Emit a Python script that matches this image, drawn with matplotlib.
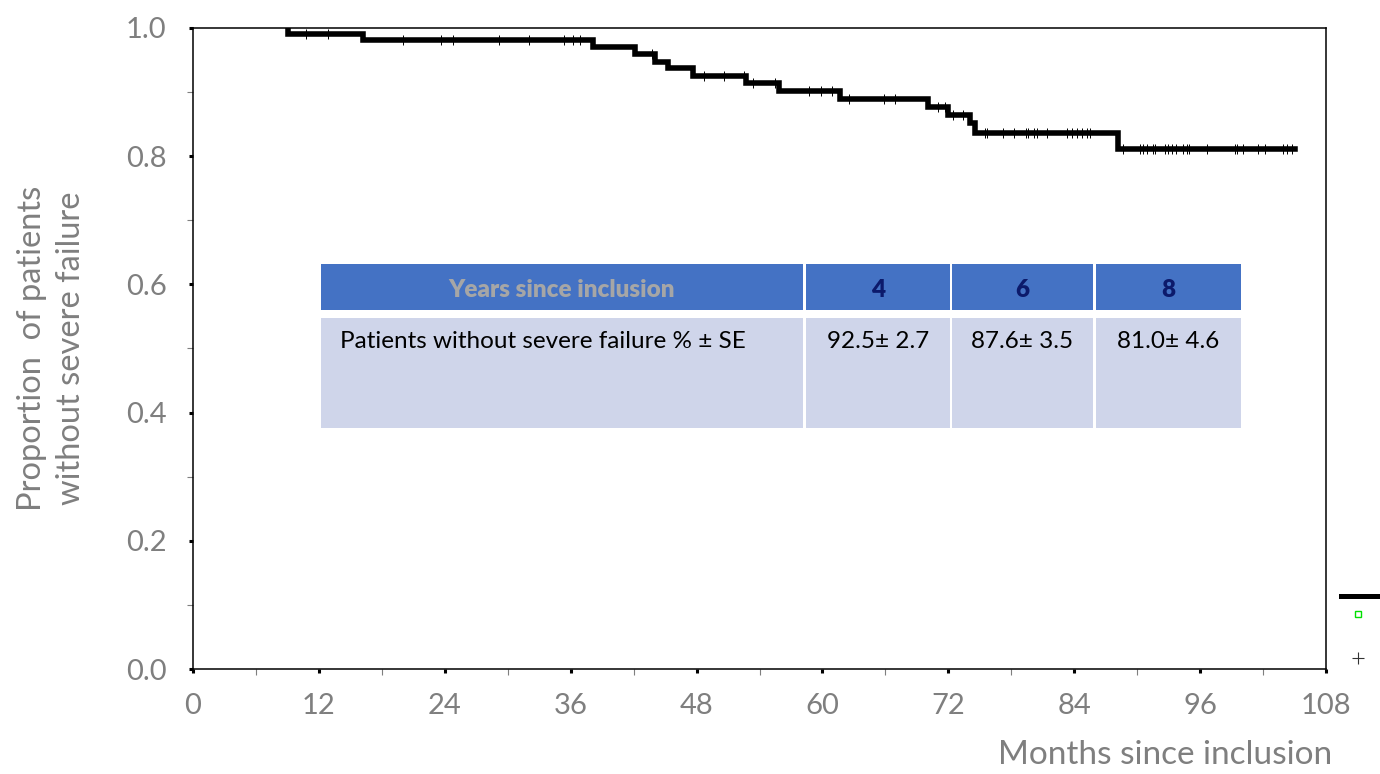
import numpy as np
import matplotlib
matplotlib.use("Agg")
import matplotlib.pyplot as plt
from matplotlib.lines import Line2D
from matplotlib.patches import Rectangle
from matplotlib.transforms import Affine2D
from matplotlib.ticker import MultipleLocator

plt.rcParams['font.family'] = ['Lato', 'DejaVu Sans']

# Kaplan-Meier steps (months, survival after each event)
event_months = [9.06, 16.21, 38.13, 42.14, 44.04, 45.28, 47.66, 52.72, 55.86,
                61.68, 70.07, 71.97, 74.07, 74.55, 88.18]
surv_levels = [0.990, 0.981, 0.970, 0.959, 0.947, 0.938, 0.925, 0.914, 0.902,
               0.889, 0.877, 0.864, 0.852, 0.836, 0.811]
last_month = 105.0

# censored observations (months)
censor_months = [10.77, 12.84,
                 19.99, 23.61, 24.76, 29.17, 32.06, 35.40, 36.25, 36.89,
                 43.73,
                 48.71, 50.65, 52.56,
                 53.41, 55.48,
                 58.75, 59.84, 60.94,
                 62.56, 65.87, 66.92,
                 71.05, 71.69,
                 72.48, 73.38,
                 75.50, 75.72, 77.24, 78.27, 79.41, 79.63, 80.20, 80.43, 81.38,
                 83.29, 83.77, 84.24, 84.72, 85.20, 85.51,
                 88.63, 90.28, 90.59, 90.92, 91.50, 91.71, 92.66, 92.98, 93.30,
                 93.71, 94.41, 94.79, 94.98, 96.63, 99.33, 99.55, 100.12,
                 101.55, 102.19, 103.94, 104.32, 104.74]

# summary table
table_header = ["Years since inclusion", "4", "6", "8"]
table_row = ["Patients without severe failure % \u00b1 SE",
             "92.5\u00b1 2.7", "87.6\u00b1 3.5", "81.0\u00b1 4.6"]

W, H = 1380, 774
fig = plt.figure(figsize=(W / 100, H / 100), dpi=100)
ax = fig.add_axes([193 / W, 1 - 669 / H, 1133 / W, 641 / H])

xs = np.r_[event_months[0], event_months, last_month]
ys = np.r_[1.0, surv_levels, surv_levels[-1]]
ax.step(xs, ys, where='post', color='black', lw=4.0, solid_joinstyle='miter')

# survival value at each censor time
idx = np.searchsorted(event_months, censor_months, side='right') - 1
cens_y = np.where(idx >= 0, np.array(surv_levels)[np.clip(idx, 0, None)], 1.0)
ax.plot(censor_months, cens_y, ls='none', marker='|', ms=7, mew=0.7,
        color='black')

ax.set_xlim(0, 108)
ax.set_ylim(0, 1.0)
ax.xaxis.set_major_locator(MultipleLocator(12))
ax.xaxis.set_minor_locator(MultipleLocator(6))
ax.yaxis.set_major_locator(MultipleLocator(0.2))
ax.yaxis.set_minor_locator(MultipleLocator(0.1))
ax.yaxis.set_major_formatter(lambda v, p: f"{v:.1f}")

grey = '#7f7f7f'
ax.tick_params(which='major', direction='out', length=3, width=2.2,
               colors='black', labelcolor=grey, labelsize=21)
ax.tick_params(axis='y', which='major', pad=16)
ax.tick_params(axis='x', which='major', pad=14)
ax.tick_params(which='minor', direction='out', length=4.5, width=0.8,
               colors=grey)
for s in ax.spines.values():
    s.set_linewidth(1.1)

ax.set_ylabel("Proportion  of patients\nwithout severe failure", fontsize=23.5,
              color=grey, linespacing=1.4)
ax.yaxis.set_label_coords(-0.125, 0.5)
ax.yaxis.label.set_va('center')
ax.set_xlabel("Months since inclusion", fontsize=24, color=grey, loc='right')
ax.xaxis.set_label_coords(1.005, -0.134)
ax.xaxis.label.set_va('center')

# table overlay, placed in figure pixels
pix = Affine2D().scale(1 / W, -1 / H).translate(0, 1) + fig.transFigure
col_edges = [(321, 803), (806, 950), (952, 1093), (1096, 1241)]
head_top, head_bot = 264, 310
body_top, body_bot = 318, 428
head_colors = ['#a6a6a6', '#0c1a6b', '#0c1a6b', '#0c1a6b']
for i, (x0, x1) in enumerate(col_edges):
    fig.add_artist(Rectangle((x0, head_top), x1 - x0, head_bot - head_top,
                             transform=pix, color='#4472c4', lw=0))
    fig.add_artist(Rectangle((x0, body_top), x1 - x0, body_bot - body_top,
                             transform=pix, color='#cfd5ea', lw=0))
    fig.text((x0 + x1) / 2, 290, table_header[i],
             transform=pix, ha='center', va='center', fontsize=17.5,
             fontweight='heavy', color=head_colors[i])
    if i == 0:
        fig.text(x0 + 19, 342, table_row[i], transform=pix, ha='left',
                 va='center', fontsize=17.5, color='black')
    else:
        fig.text((x0 + x1) / 2, 342, table_row[i], transform=pix,
                 ha='center', va='center', fontsize=17.5, color='black')

# remains of a legend cut off at the right edge
leg_specs = [
    (Line2D([], [], color='black', lw=3.6), 1341, 597, 4.0),
    (Line2D([], [], ls='none', marker='s', ms=4.5, mfc='none', mec='#00e000',
            mew=1.0), 1352, 615, 0.85),
    (Line2D([], [], ls='none', marker='+', ms=9, mew=0.8, color='#333333'),
     1352, 659, 0.85),
]
for h, px, py, hl in leg_specs:
    fig.legend([h], [''], loc='center left', bbox_to_anchor=(px / W, 1 - py / H),
               frameon=False, borderpad=0, borderaxespad=0, handletextpad=0,
               handlelength=hl, fontsize=10)

fig.savefig('out.png', dpi=100)
